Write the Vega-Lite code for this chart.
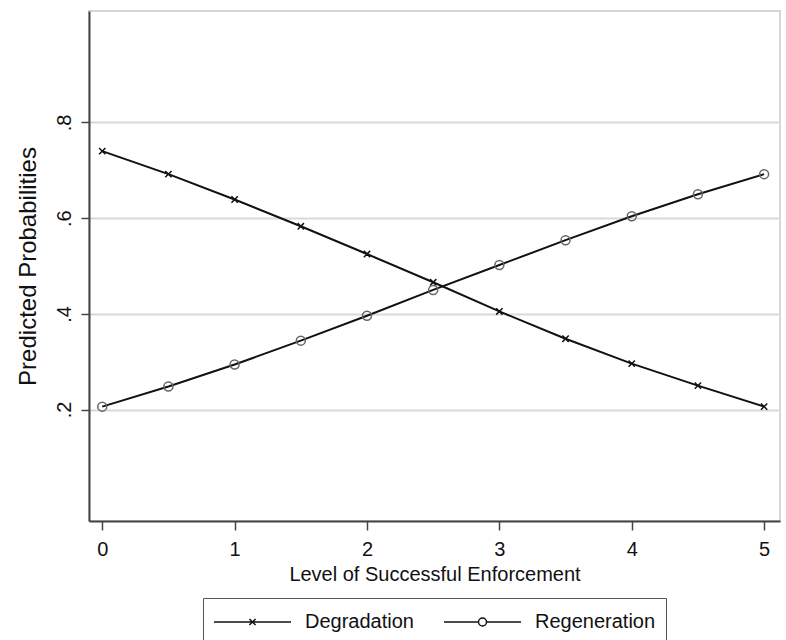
{
  "$schema": "https://vega.github.io/schema/vega-lite/v6.json",
  "width": 691,
  "height": 510,
  "autosize": {"type": "none"},
  "padding": {"left": 89, "top": 11, "right": 6, "bottom": 119},
  "background": "white",
  "config": {
    "font": "Liberation Sans",
    "view": {"stroke": "#d6d6d6", "strokeWidth": 2}
  },
  "data": {
    "values": [
      {"series": "Degradation", "level": 0, "prob": 0.74},
      {"series": "Degradation", "level": 0.5, "prob": 0.692},
      {"series": "Degradation", "level": 1, "prob": 0.639},
      {"series": "Degradation", "level": 1.5, "prob": 0.583},
      {"series": "Degradation", "level": 2, "prob": 0.525},
      {"series": "Degradation", "level": 2.5, "prob": 0.466},
      {"series": "Degradation", "level": 3, "prob": 0.405},
      {"series": "Degradation", "level": 3.5, "prob": 0.348},
      {"series": "Degradation", "level": 4, "prob": 0.296},
      {"series": "Degradation", "level": 4.5, "prob": 0.25},
      {"series": "Degradation", "level": 5, "prob": 0.206},
      {"series": "Regeneration", "level": 0, "prob": 0.206},
      {"series": "Regeneration", "level": 0.5, "prob": 0.248},
      {"series": "Regeneration", "level": 1, "prob": 0.294},
      {"series": "Regeneration", "level": 1.5, "prob": 0.344},
      {"series": "Regeneration", "level": 2, "prob": 0.396},
      {"series": "Regeneration", "level": 2.5, "prob": 0.45},
      {"series": "Regeneration", "level": 3, "prob": 0.502},
      {"series": "Regeneration", "level": 3.5, "prob": 0.554},
      {"series": "Regeneration", "level": 4, "prob": 0.604},
      {"series": "Regeneration", "level": 4.5, "prob": 0.65},
      {"series": "Regeneration", "level": 5, "prob": 0.692}
    ]
  },
  "encoding": {
    "x": {
      "field": "level",
      "type": "quantitative",
      "scale": {"domain": [-0.1, 5.12], "nice": false, "zero": false},
      "axis": {
        "values": [0, 1, 2, 3, 4, 5],
        "title": "Level of Successful Enforcement",
        "grid": false,
        "domainColor": "#444",
        "domainWidth": 2,
        "tickColor": "#444",
        "tickWidth": 1.5,
        "tickSize": 9,
        "labelFontSize": 20,
        "labelColor": "#111",
        "labelPadding": 9,
        "labelFlush": false,
        "labelOverlap": false,
        "titleFontSize": 20,
        "titleFontWeight": "normal",
        "titleColor": "#111",
        "titlePadding": 5
      }
    },
    "y": {
      "field": "prob",
      "type": "quantitative",
      "scale": {"domain": [-0.033, 1.033], "nice": false, "zero": false},
      "axis": {
        "values": [0.2, 0.4, 0.6, 0.8],
        "labelExpr": "replace(format(datum.value, '.1f'), '0.', '.')",
        "title": "Predicted Probabilities",
        "grid": true,
        "gridColor": "#d9d9d9",
        "gridWidth": 2,
        "domainColor": "#444",
        "domainWidth": 2,
        "tickColor": "#444",
        "tickWidth": 1.5,
        "tickSize": 8,
        "labelAngle": -90,
        "labelAlign": "center",
        "labelBaseline": "bottom",
        "labelPadding": 7,
        "labelFontSize": 20,
        "labelColor": "#111",
        "titleFontSize": 24,
        "titleFontWeight": "normal",
        "titleColor": "#111",
        "titlePadding": 14
      }
    }
  },
  "layer": [
    {
      "mark": {"type": "line", "color": "#111", "strokeWidth": 2},
      "encoding": {"detail": {"field": "series"}}
    },
    {
      "mark": {"type": "point", "filled": false, "strokeWidth": 1.5, "opacity": 1},
      "encoding": {
        "shape": {
          "field": "series",
          "scale": {"domain": ["Degradation", "Regeneration"], "range": ["M-1,-1L1,1M-1,1L1,-1", "circle"]},
          "legend": null
        },
        "size": {
          "field": "series",
          "type": "nominal",
          "scale": {"domain": ["Degradation", "Regeneration"], "range": [40, 81]},
          "legend": null
        },
        "stroke": {
          "field": "series",
          "scale": {"domain": ["Degradation", "Regeneration"], "range": ["#111", "#666"]},
          "legend": null
        }
      }
    },
    {
      "transform": [{"filter": "false"}],
      "mark": {"type": "point", "filled": false, "color": "#111", "strokeWidth": 1.5, "size": 5929, "opacity": 1},
      "encoding": {
        "shape": {
          "field": "series",
          "scale": {
            "domain": ["Degradation", "Regeneration"],
            "range": [
              "M-1,0L1,0M-0.08,-0.08L0.08,0.08M-0.08,0.08L0.08,-0.08",
              "M-1,0L-0.104,0M0.104,0L1,0M0.104,0A0.104,0.104,0,1,1,-0.104,0A0.104,0.104,0,1,1,0.104,0"
            ]
          },
          "legend": {
            "title": null,
            "orient": "none",
            "legendX": 114,
            "legendY": 587,
            "direction": "horizontal",
            "columns": 2,
            "symbolSize": 5929,
            "clipHeight": 28,
            "padding": 10,
            "labelOffset": 13,
            "columnPadding": 29,
            "labelFontSize": 20,
            "labelColor": "#111",
            "labelLimit": 0,
            "strokeColor": "#555",
            "fillColor": "white",
            "symbolStrokeColor": "#111",
            "symbolStrokeWidth": 1.5,
            "symbolFillColor": "transparent"
          }
        }
      }
    }
  ],
  "resolve": {"scale": {"shape": "independent"}}
}
